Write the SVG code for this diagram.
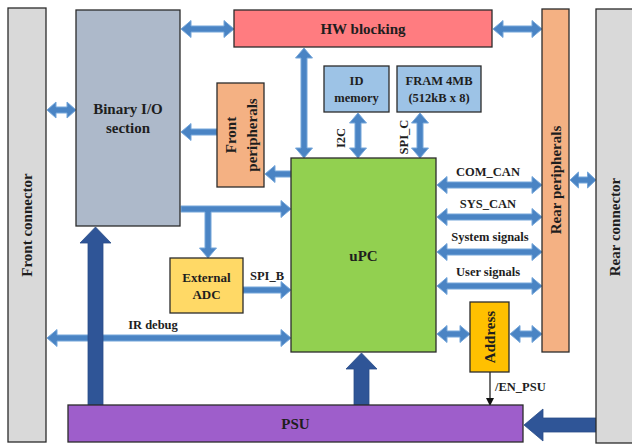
<svg xmlns="http://www.w3.org/2000/svg" width="632" height="445" viewBox="0 0 632 445">
  <style>
    .box { stroke: #2b2b2b; stroke-width: 1.3; }
    .lbl { font-family: "Liberation Serif", "Times New Roman", serif; font-weight: bold; fill: #1e1e1e; text-anchor: middle; dominant-baseline: central; }
    .big { font-size: 15px; }
    .mid { font-size: 13px; }
    .sm { font-size: 12.5px; }
    .bus { fill: #4a84c4; stroke: #74a6da; stroke-width: 1; }
    .pwr { fill: #2f5597; stroke: #284c88; stroke-width: 0.8; }
  </style>
  <defs>
    <marker id="tip" markerWidth="8" markerHeight="8" refX="7" refY="4" orient="auto" markerUnits="userSpaceOnUse">
      <path d="M0,0 L8,4 L0,8 Z" fill="#111"/>
    </marker>
  </defs>
  <rect width="632" height="445" fill="#ffffff"/>

  <!-- signal and power connectors -->
  <g id="connectors">
    <!-- Binary I/O <-> HW blocking -->
    <path class="bus" d="M181,29 L191,20.5 L191,26 L224,26 L224,20.5 L234,29 L224,37.5 L224,32 L191,32 L191,37.5 Z"/>
    <!-- HW blocking <-> Rear peripherals -->
    <path class="bus" d="M493,29 L503,20.5 L503,26 L532,26 L532,20.5 L542,29 L532,37.5 L532,32 L503,32 L503,37.5 Z"/>
    <!-- Front connector <-> Binary I/O -->
    <path class="bus" d="M47,110 L56,102 L56,107 L67,107 L67,102 L76,110 L67,118 L67,113 L56,113 L56,118 Z"/>
    <!-- HW blocking <-> uPC -->
    <path class="bus" d="M304,48 L312.5,58 L307,58 L307,148 L312.5,148 L304,158 L295.5,148 L301,148 L301,58 L295.5,58 Z"/>
    <!-- ID memory <-> uPC (I2C) -->
    <path class="bus" d="M358,113 L366.5,123 L361,123 L361,148 L366.5,148 L358,158 L349.5,148 L355,148 L355,123 L349.5,123 Z"/>
    <!-- FRAM <-> uPC (SPI_C) -->
    <path class="bus" d="M420,113 L428.5,123 L423,123 L423,148 L428.5,148 L420,158 L411.5,148 L417,148 L417,123 L411.5,123 Z"/>
    <!-- Front peripherals -> Binary I/O -->
    <path class="bus" d="M181,132 L191,123.5 L191,129 L217,129 L217,135 L191,135 L191,140.5 Z"/>
    <!-- uPC -> Front peripherals -->
    <path class="bus" d="M265,174 L275,165.5 L275,171 L291,171 L291,177 L275,177 L275,182.5 Z"/>
    <!-- Binary I/O -> uPC, with branch down to External ADC -->
    <path class="bus" d="M181,206 L281,206 L281,200.5 L291,209 L281,217.5 L281,212 L211,212 L211,248 L216.5,248 L208,258 L199.5,248 L205,248 L205,212 L181,212 Z"/>
    <!-- External ADC -> uPC (SPI_B) -->
    <path class="bus" d="M243,287 L281,287 L281,281.5 L291,290 L281,298.5 L281,293 L243,293 Z"/>
    <!-- IR debug: Front connector <-> uPC -->
    <path class="bus" d="M47,338 L57,329.5 L57,335 L281,335 L281,329.5 L291,338 L281,346.5 L281,341 L57,341 L57,346.5 Z"/>
    <!-- uPC <-> Rear peripherals buses -->
    <path class="bus" d="M437,185 L447,176.5 L447,182 L532,182 L532,176.5 L542,185 L532,193.5 L532,188 L447,188 L447,193.5 Z"/>
    <path class="bus" d="M437,217 L447,208.5 L447,214 L532,214 L532,208.5 L542,217 L532,225.5 L532,220 L447,220 L447,225.5 Z"/>
    <path class="bus" d="M437,252 L447,243.5 L447,249 L532,249 L532,243.5 L542,252 L532,260.5 L532,255 L447,255 L447,260.5 Z"/>
    <path class="bus" d="M437,286 L447,277.5 L447,283 L532,283 L532,277.5 L542,286 L532,294.5 L532,289 L447,289 L447,294.5 Z"/>
    <!-- uPC <-> Address <-> Rear peripherals -->
    <path class="bus" d="M437,334 L447,325.5 L447,331 L460,331 L460,325.5 L470,334 L460,342.5 L460,337 L447,337 L447,342.5 Z"/>
    <path class="bus" d="M510,334 L520,325.5 L520,331 L532,331 L532,325.5 L542,334 L532,342.5 L532,337 L520,337 L520,342.5 Z"/>
    <!-- Rear peripherals <-> Rear connector -->
    <path class="bus" d="M570,180 L578.5,172 L578.5,177 L587.5,177 L587.5,172 L596,180 L587.5,188 L587.5,183 L578.5,183 L578.5,188 Z"/>
    <!-- power feeds from PSU -->
    <path class="pwr" d="M88,405 L88,243 L80,243 L95.5,227 L111,243 L103,243 L103,405 Z"/>
    <path class="pwr" d="M354,405 L354,369 L346,369 L361.5,353 L377,369 L369,369 L369,405 Z"/>
    <!-- supply from Rear connector to PSU -->
    <path class="pwr" d="M596,418 L543,418 L543,409 L524,425 L543,441 L543,432 L596,432 Z"/>
    <!-- PSU enable -->
    <line x1="490" y1="372" x2="490" y2="405" stroke="#111" stroke-width="1.2" marker-end="url(#tip)"/>
  </g>

  <g id="front-connector">
    <rect class="box" x="8" y="8" width="38" height="434" fill="#d9d9d9"/>
    <text class="lbl big" transform="rotate(-90 27 225)" x="27" y="225">Front connector</text>
  </g>

  <g id="binary-io">
    <rect class="box" x="76" y="10" width="104" height="216" fill="#adb9ca"/>
    <text class="lbl big" x="128" y="109">Binary I/O</text>
    <text class="lbl big" x="128" y="128">section</text>
  </g>

  <g id="hw-blocking">
    <rect class="box" x="234" y="10" width="258" height="37" fill="#ff7c80"/>
    <text class="lbl big" x="363" y="29">HW blocking</text>
  </g>

  <g id="front-peripherals">
    <rect class="box" x="217" y="83" width="47" height="104" fill="#f4b183"/>
    <text class="lbl big" transform="rotate(-90 231 135)" x="231" y="135">Front</text>
    <text class="lbl big" transform="rotate(-90 252 135)" x="252" y="135">peripherals</text>
  </g>

  <g id="id-memory">
    <rect class="box" x="324" y="66" width="65" height="46" fill="#9dc3e6"/>
    <text class="lbl sm" x="356.5" y="81">ID</text>
    <text class="lbl sm" x="356.5" y="98">memory</text>
  </g>

  <g id="fram">
    <rect class="box" x="397" y="66" width="84" height="46" fill="#9dc3e6"/>
    <text class="lbl sm" x="439" y="81">FRAM 4MB</text>
    <text class="lbl sm" x="439" y="98">(512kB x 8)</text>
  </g>

  <g id="upc">
    <rect class="box" x="291" y="158" width="145" height="194" fill="#92d050"/>
    <text class="lbl big" x="363.5" y="256">uPC</text>
  </g>

  <g id="external-adc">
    <rect class="box" x="170" y="258" width="73" height="55" fill="#ffd966"/>
    <text class="lbl mid" x="206.5" y="277">External</text>
    <text class="lbl mid" x="206.5" y="294">ADC</text>
  </g>

  <g id="address">
    <rect class="box" x="470" y="302" width="39" height="70" fill="#ffc000"/>
    <text class="lbl big" transform="rotate(-90 489.5 337)" x="489.5" y="337">Address</text>
  </g>

  <g id="rear-peripherals">
    <rect class="box" x="542" y="9" width="27" height="343" fill="#f4b183"/>
    <text class="lbl big" transform="rotate(-90 556 180)" x="556" y="180">Rear peripherals</text>
  </g>

  <g id="rear-connector">
    <rect class="box" x="596" y="9" width="40" height="434" fill="#d9d9d9"/>
    <text class="lbl big" transform="rotate(-90 615 227)" x="615" y="227">Rear connector</text>
  </g>

  <g id="psu">
    <rect class="box" x="68" y="405" width="455" height="37" fill="#9e5ecb"/>
    <text class="lbl big" x="295.5" y="424">PSU</text>
  </g>

  <!-- bus labels -->
  <g id="bus-labels">
    <text class="lbl sm" transform="rotate(-90 341 138)" x="341" y="138">I2C</text>
    <text class="lbl sm" transform="rotate(-90 404 137)" x="404" y="137">SPI_C</text>
    <text class="lbl sm" x="488" y="172">COM_CAN</text>
    <text class="lbl sm" x="488" y="204">SYS_CAN</text>
    <text class="lbl sm" x="490" y="237">System signals</text>
    <text class="lbl sm" x="488" y="272">User signals</text>
    <text class="lbl sm" x="267" y="276">SPI_B</text>
    <text class="lbl sm" x="153" y="325">IR debug</text>
    <text class="lbl sm" x="495" y="387" style="text-anchor:start">/EN_PSU</text>
  </g>
</svg>
